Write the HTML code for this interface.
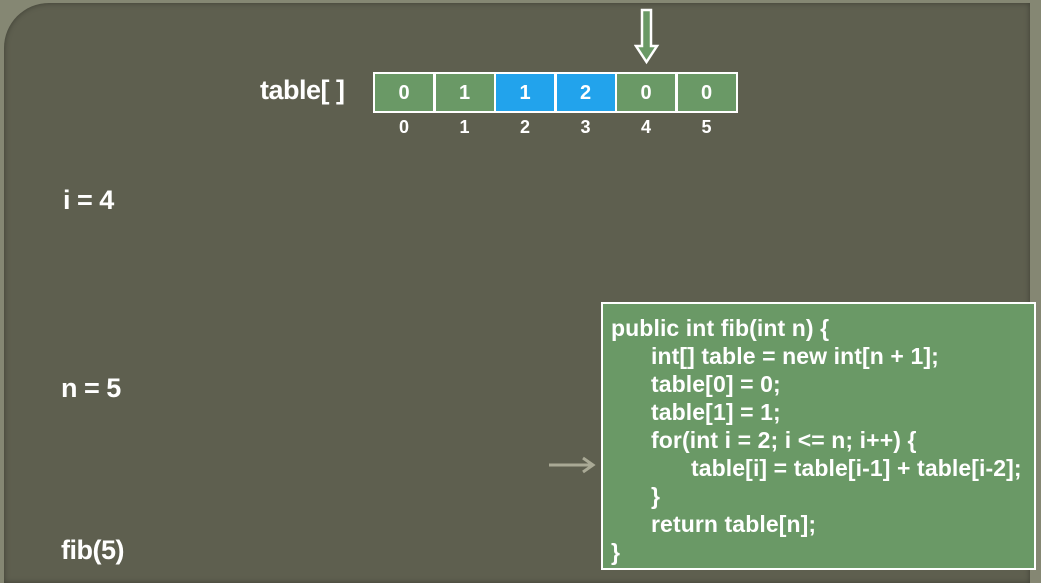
<!DOCTYPE html>
<html><head><meta charset="utf-8">
<style>
html,body{margin:0;padding:0}
body{width:1041px;height:577px;overflow:hidden;background:#858773;position:relative;font-family:"Liberation Sans",sans-serif;color:#fff}
#panel{position:absolute;left:4px;top:3px;width:1026px;height:580px;background:#5e5f4f;border-top-left-radius:45px;box-shadow:inset 0 0 6px rgba(0,0,0,.35)}
.lbl{position:absolute;font-size:27px;font-weight:bold;letter-spacing:-0.5px}
.cell{position:absolute;top:72px;width:58px;height:37px;border:2px solid #fff;box-sizing:content-box;font-size:20px;font-weight:bold;text-align:center;line-height:38px}
.idx{position:absolute;top:117px;width:62px;text-align:center;font-size:18px;font-weight:bold}
#code{position:absolute;left:601px;top:302px;width:431px;height:264px;background:#6a9966;border:2px solid #fff;font-size:23px;letter-spacing:0.1px;font-weight:bold;line-height:28px;padding:0;box-sizing:content-box;overflow:hidden}
#code div{position:absolute;white-space:pre}
</style></head><body>
<div id="panel"></div>
<div class="lbl" style="left:260px;top:75px">table[ ]</div>
<div id="cells"></div>
<svg style="position:absolute;left:634px;top:8px" width="26" height="58">
<path d="M8,2 H17 V38 H23 L12.5,54 L2,38 H8 Z" fill="#6a9966" stroke="#fff" stroke-width="2.5"/>
</svg>
<div class="lbl" style="left:63px;top:185px">i = 4</div>
<div class="lbl" style="left:61px;top:373px">n = 5</div>
<div class="lbl" style="left:61px;top:535px">fib(5)</div>
<svg style="position:absolute;left:548px;top:455px" width="48" height="20">
<path d="M1,10 H44 M35,3 L45,10 L35,17" fill="none" stroke="#a9a995" stroke-width="3"/>
</svg>
<div id="code">
<div style="left:8px;top:10px">public int fib(int n) {</div>
<div style="left:48px;top:38px">int[] table = new int[n + 1];</div>
<div style="left:48px;top:66px">table[0] = 0;</div>
<div style="left:48px;top:94px">table[1] = 1;</div>
<div style="left:48px;top:122px">for(int i = 2; i &lt;= n; i++) {</div>
<div style="left:88px;top:150px">table[i] = table[i-1] + table[i-2];</div>
<div style="left:48px;top:178px">}</div>
<div style="left:48px;top:206px">return table[n];</div>
<div style="left:8px;top:234px">}</div>
</div>
<script>
const values=[0,1,1,2,0,0];
const highlighted=[false,false,true,true,false,false];
const c=document.getElementById('cells');
values.forEach((v,i)=>{
 const d=document.createElement('div');
 d.className='cell';
 
 
 d.style.left=(373+i*60.5)+'px';
 d.style.background=highlighted[i]?'#22a3ec':'#6a9966';
 d.textContent=v;
 c.appendChild(d);
 const x=document.createElement('div');
 x.className='idx';
 
 
 x.style.left=(373+i*60.5)+'px';
 x.textContent=i;
 c.appendChild(x);
});
</script>
</body></html>
